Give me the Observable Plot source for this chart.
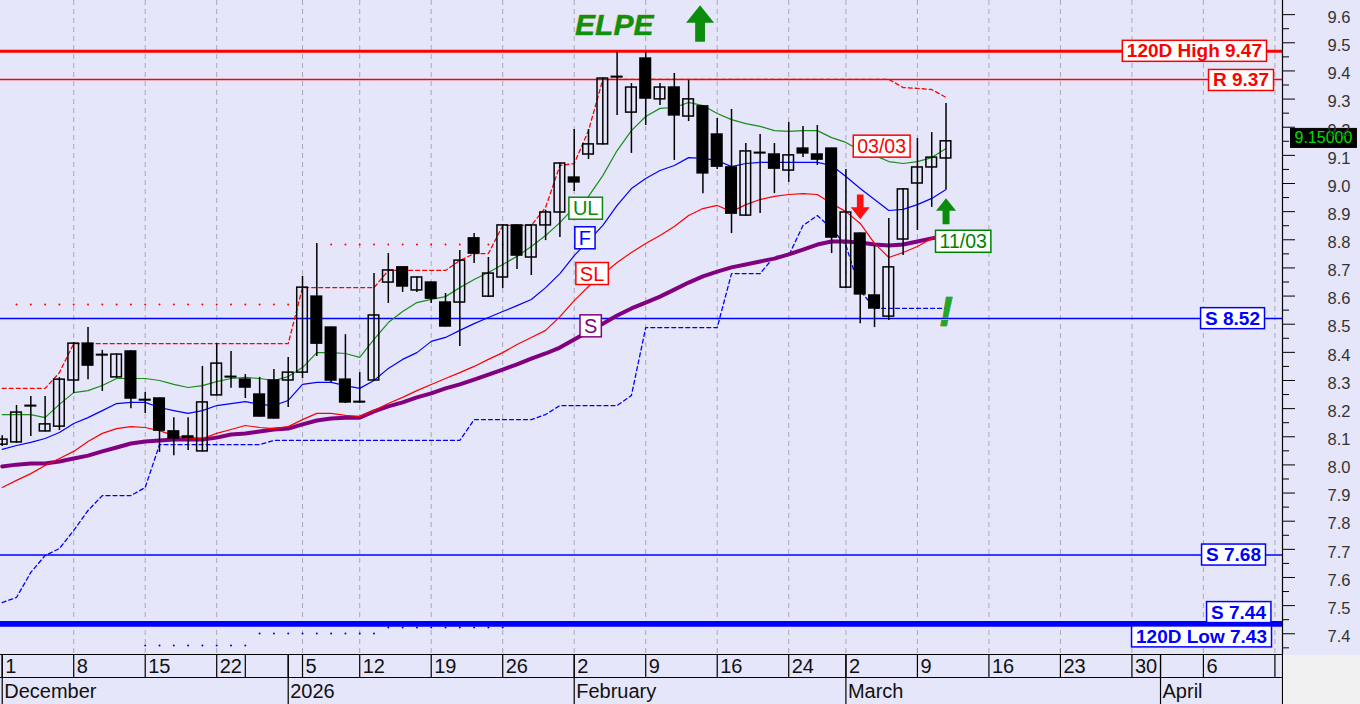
<!DOCTYPE html>
<html>
<head>
<meta charset="utf-8">
<script src="https://cdn.jsdelivr.net/npm/d3@7"></script>
<script src="https://cdn.jsdelivr.net/npm/@observablehq/plot@0.6"></script>
<style>
  html, body { margin: 0; padding: 0; background: #f0f0f0; }
  #chart svg { display: block; }
</style>
</head>
<body>
<div id="chart"></div>
<script>
// ---------------- calendar (trading sessions) ----------------
const firstSession = "2025-12-01";
const lastSession = "2026-04-13";
const holidays = ["2025-12-24", "2025-12-25", "2025-12-26", "2026-01-01", "2026-01-06", "2026-02-23"];

// ---------------- daily OHLC (ELPE) ----------------
const open = [8.072,8.080,8.210,8.119,8.136,8.300,8.431,8.391,8.311,8.403,
  8.231,8.236,8.119,8.101,8.048,8.247,8.313,8.303,8.250,8.300,
  8.300,8.328,8.598,8.488,8.303,8.224,8.300,8.648,8.702,8.620,
  8.648,8.577,8.577,8.805,8.598,8.666,8.851,8.737,8.851,8.897,
  9.021,9.103,9.139,9.379,9.252,9.444,9.299,9.341,9.238,9.274,
  9.174,9.057,8.886,9.109,9.103,9.046,9.124,9.103,9.124,8.630,
  8.822,8.602,8.527,8.801,9.000,9.057,9.089];
const high = [8.104,8.211,8.243,8.243,8.310,8.435,8.488,8.407,8.395,8.406,
  8.257,8.238,8.168,8.168,8.350,8.431,8.403,8.321,8.311,8.339,
  8.382,8.670,8.787,8.490,8.463,8.328,8.680,8.751,8.704,8.668,
  8.650,8.609,8.762,8.822,8.737,8.853,8.853,8.853,8.905,9.073,
  9.192,9.192,9.375,9.466,9.355,9.466,9.355,9.391,9.366,9.276,
  9.231,9.263,9.142,9.174,9.142,9.217,9.203,9.206,9.126,9.050,
  8.824,8.780,8.876,8.981,9.160,9.181,9.284];
const low = [8.065,8.076,8.101,8.117,8.122,8.254,8.303,8.261,8.308,8.200,
  8.183,8.044,8.033,8.051,8.046,8.245,8.272,8.236,8.170,8.163,
  8.204,8.307,8.385,8.289,8.218,8.218,8.298,8.574,8.613,8.613,
  8.574,8.490,8.421,8.716,8.596,8.627,8.694,8.673,8.797,8.808,
  8.972,9.085,9.137,9.242,9.107,9.206,9.277,9.082,9.220,8.964,
  9.050,8.822,8.884,8.893,8.964,9.004,9.092,9.064,8.751,8.627,
  8.502,8.488,8.513,8.744,8.833,8.915,8.979];
const close = [8.090,8.186,8.208,8.144,8.303,8.431,8.353,8.389,8.392,8.236,
  8.229,8.122,8.094,8.096,8.222,8.360,8.311,8.275,8.172,8.165,
  8.328,8.630,8.431,8.300,8.222,8.222,8.531,8.691,8.634,8.666,
  8.591,8.492,8.726,8.751,8.680,8.851,8.744,8.851,8.897,9.071,
  9.004,9.139,9.373,9.377,9.341,9.302,9.341,9.242,9.299,9.036,
  9.060,8.893,9.114,9.107,9.053,9.100,9.107,9.085,8.808,8.897,
  8.606,8.556,8.702,8.979,9.057,9.092,9.150];

// ---------------- indicator lines ----------------
const ulLine = [8.179,8.179,8.179,8.168,8.215,8.257,8.264,8.282,8.307,8.307,
  8.307,8.300,8.286,8.275,8.282,8.296,8.307,8.311,8.307,8.300,
  8.314,8.346,8.399,8.399,8.396,8.382,8.446,8.506,8.545,8.577,
  8.588,8.598,8.630,8.659,8.684,8.712,8.741,8.776,8.815,8.861,
  8.915,8.954,9.028,9.117,9.188,9.238,9.267,9.270,9.288,9.277,
  9.249,9.227,9.213,9.203,9.188,9.185,9.188,9.188,9.163,9.146,
  9.117,9.100,9.078,9.071,9.078,9.092,9.124];
const fLine = [8.055,8.069,8.080,8.094,8.115,8.147,8.168,8.193,8.218,8.222,
  8.222,8.204,8.193,8.183,8.193,8.211,8.218,8.225,8.215,8.211,
  8.229,8.286,8.293,8.293,8.282,8.272,8.300,8.343,8.375,8.399,
  8.439,8.453,8.478,8.502,8.524,8.545,8.566,8.588,8.630,8.680,
  8.744,8.797,8.851,8.922,8.982,9.018,9.046,9.064,9.092,9.089,
  9.082,9.060,9.071,9.075,9.075,9.075,9.075,9.075,9.064,9.025,
  8.982,8.943,8.904,8.908,8.925,8.947,8.979];
const slLine = [7.920,7.945,7.969,7.998,8.023,8.048,8.083,8.112,8.129,8.136,
  8.133,8.122,8.104,8.094,8.094,8.112,8.126,8.140,8.133,8.129,
  8.136,8.161,8.183,8.183,8.176,8.172,8.193,8.218,8.240,8.264,
  8.286,8.307,8.328,8.350,8.375,8.399,8.428,8.453,8.478,8.527,
  8.584,8.634,8.677,8.719,8.755,8.787,8.815,8.847,8.886,8.911,
  8.922,8.900,8.925,8.943,8.954,8.961,8.964,8.961,8.929,8.900,
  8.858,8.787,8.737,8.755,8.776,8.805,8.826];
const sLine = [7.994,8.001,8.005,8.005,8.012,8.023,8.033,8.048,8.062,8.076,
  8.083,8.087,8.090,8.090,8.090,8.097,8.108,8.112,8.119,8.126,
  8.129,8.144,8.158,8.165,8.168,8.168,8.190,8.208,8.222,8.240,
  8.254,8.272,8.286,8.303,8.321,8.339,8.357,8.378,8.396,8.417,
  8.446,8.474,8.502,8.531,8.556,8.577,8.598,8.623,8.648,8.670,
  8.687,8.702,8.712,8.723,8.733,8.748,8.765,8.783,8.794,8.794,
  8.790,8.783,8.780,8.783,8.794,8.805,8.815];
const upperStop = [8.272,8.272,8.272,8.272,8.328,8.431,8.431,8.431,8.431,8.431,
  8.431,8.431,8.431,8.431,8.431,8.431,8.431,8.431,8.431,8.431,
  8.431,8.630,8.630,8.630,8.630,8.630,8.630,8.691,8.691,8.691,
  8.691,8.691,8.726,8.751,8.751,8.851,8.851,8.851,8.915,9.064,
  9.071,9.188,9.370,9.370,9.370,9.370,9.370,9.370,9.370,9.370,
  9.370,9.370,9.370,9.370,9.370,9.370,9.370,9.370,9.370,9.370,
  9.370,9.370,9.370,9.341,9.338,9.334,9.306];
const lowerStop = [7.511,7.529,7.618,7.678,7.703,7.767,7.838,7.891,7.891,7.891,
  7.920,8.072,8.072,8.072,8.072,8.072,8.072,8.072,8.072,8.087,
  8.087,8.087,8.087,8.087,8.087,8.087,8.087,8.087,8.087,8.087,
  8.087,8.087,8.087,8.161,8.161,8.161,8.161,8.161,8.179,8.211,
  8.211,8.211,8.211,8.211,8.247,8.488,8.488,8.488,8.488,8.488,
  8.488,8.680,8.680,8.680,8.741,8.744,8.851,8.886,8.840,8.780,
  8.620,8.556,8.556,8.556,8.556,8.556,8.556];
const redDotted = [
  {start: "2025-12-02", end: "2026-01-02", value: 8.570},
  {start: "2026-01-08", end: "2026-01-26", value: 8.783}
];
const blueDotted = [
  {start: "2025-12-15", end: "2025-12-29", value: 7.358},
  {start: "2025-12-30", end: "2026-01-13", value: 7.401},
  {start: "2026-01-14", end: "2026-01-26", value: 7.422}
];

// ---------------- horizontal levels ----------------
const levelNames = ["120D High", "R", "S", "S", "S", "120D Low"];
const levelValues = [9.47, 9.37, 8.52, 7.68, 7.44, 7.43];

// ---------------- annotations (session number, price) ----------------
const lineTags = ["UL", "F", "SL", "S"];
const lineTagAt = [40.8, 40.75, 41.25, 41.15];
const lineTagValue = [8.910, 8.805, 8.678, 8.492];
const dateTags = ["03/03", "11/03"];
const dateTagAt = [61.5, 67.2];
const dateTagValue = [9.130, 8.792];
const title = "ELPE";
const titleAt = 42.8;
const titleArrowAt = 48.8;
const sellSignalAt = 60, sellSignalValue = 8.917;
const buySignalAt = 66, buySignalValue = 8.901;
const alertAt = 66, alertValue = 8.543;

// ---------------- axis ticks ----------------
const weekTickDates = ["2025-12-01","2025-12-08","2025-12-15","2025-12-22","2026-01-05","2026-01-12",
  "2026-01-19","2026-01-26","2026-02-02","2026-02-09","2026-02-16","2026-02-24","2026-03-02",
  "2026-03-09","2026-03-16","2026-03-23","2026-03-30","2026-04-06","2026-04-13"];
const weekTickLabels = ["1","8","15","22","5","12","19","26","2","9","16","24","2","9","16","23","30","6",""];
const weekBreakDates = ["2025-12-29", "2026-01-02", "2026-04-01"];
const monthDates = ["2025-12-01", "2026-01-02", "2026-02-02", "2026-03-02", "2026-04-01"];
const monthLabels = ["December", "2026", "February", "March", "April"];
const yTicks = [7.4,7.5,7.6,7.7,7.8,7.9,8.0,8.1,8.2,8.3,8.4,8.5,8.6,8.7,8.8,8.9,9.0,9.1,9.2,9.3,9.4,9.5,9.6];
const yMinorTicks = [7.35,7.45,7.55,7.65,7.75,7.85,7.95,8.05,8.15,8.25,8.35,8.45,8.55,8.65,8.75,8.85,8.95,9.05,9.15,9.25,9.35,9.45,9.55];

// ================= build =================
const sessions = [];
for (let d = new Date(firstSession + "T00:00:00Z"); d <= new Date(lastSession + "T00:00:00Z"); d.setUTCDate(d.getUTCDate() + 1)) {
  const s = d.toISOString().slice(0, 10), wd = d.getUTCDay();
  if (wd !== 0 && wd !== 6 && !holidays.includes(s)) sessions.push(s);
}
const idx = (s) => sessions.indexOf(s);

const candles = close.map((c, i) => ({i, o: open[i], h: high[i], l: low[i], c}));
const series = (arr) => arr.map((v, i) => ({i, v}));
const dotRuns = (segs) => segs.flatMap(s => d3.range(idx(s.start), idx(s.end) + 1).map(i => ({i, v: s.value})));

const xDomain = [-0.12, sessions.length - 1 + 0.53];
const yDomain = [7.3263, 9.6503];

const RED = "#ff0000", BLUE = "#0000ff", GREEN = "#0a8a0a", PURPLE = "#800080";

const weekIdx = weekTickDates.map(idx);
const weekLabelByIdx = new Map(weekIdx.map((k, j) => [k, weekTickLabels[j]]));
const row1Ticks = [...weekIdx, ...weekBreakDates.map(idx)];
const monthIdx = monthDates.map(idx);
const monthLabelByIdx = new Map(monthIdx.map((k, j) => [k, monthLabels[j]]));

function arrowSymbol(dir) {
  return {
    draw(ctx, size) {
      const r = Math.sqrt(size / Math.PI), h = 1.3 * r, hh = 1.25 * r, w = 0.35 * r, s = dir === "up" ? 1 : -1;
      ctx.moveTo(0, -h * s);
      ctx.lineTo(r, (-h + hh) * s);
      ctx.lineTo(w, (-h + hh) * s);
      ctx.lineTo(w, h * s);
      ctx.lineTo(-w, h * s);
      ctx.lineTo(-w, (-h + hh) * s);
      ctx.lineTo(-r, (-h + hh) * s);
      ctx.closePath();
    }
  };
}

const levelLabel = (k) => `${levelNames[k]} ${levelValues[k].toFixed(2)}`;
const levelColor = (k) => (k < 2 ? RED : BLUE);
const levelWidth = (k) => (k === 0 ? 3 : k >= 4 ? 3 : 1.5);
const levelLabelDy = (k) => [0, 1, 0, 0, -10, 11.5][k];
const levelLabelDx = (k) => [-20.5, -13.5, -22.5, -21.5, -16.5, -15.5][k];

const marks = [
  Plot.ruleX(weekIdx.slice(1), {stroke: "#a9a9b4", strokeDasharray: "5,4", strokeWidth: 1}),
  ...levelValues.map((v, k) => Plot.ruleY([v], {stroke: levelColor(k), strokeWidth: levelWidth(k)})),
  Plot.dot(dotRuns(redDotted), {x: "i", y: "v", r: 1, fill: RED, stroke: null}),
  Plot.dot(dotRuns(blueDotted), {x: "i", y: "v", r: 1, fill: BLUE, stroke: null}),
  Plot.line(series(upperStop), {x: "i", y: "v", stroke: RED, strokeWidth: 1.3, strokeDasharray: "4,3"}),
  Plot.line(series(lowerStop), {x: "i", y: "v", stroke: BLUE, strokeWidth: 1.3, strokeDasharray: "4,3"}),
  Plot.line(series(sLine), {x: "i", y: "v", stroke: PURPLE, strokeWidth: 4}),
  Plot.line(series(slLine), {x: "i", y: "v", stroke: RED, strokeWidth: 1.2}),
  Plot.line(series(fLine), {x: "i", y: "v", stroke: BLUE, strokeWidth: 1.2}),
  Plot.line(series(ulLine), {x: "i", y: "v", stroke: "#1a8c1a", strokeWidth: 1.2}),
  Plot.ruleX(candles, {x: "i", y1: "l", y2: "h", stroke: "#000", strokeWidth: 1.5}),
  Plot.rect(candles, {filter: d => d.c >= d.o, x1: d => d.i - 0.37, x2: d => d.i + 0.37, y1: "o", y2: "c", fill: "none", stroke: "#000", strokeWidth: 1.5}),
  Plot.rect(candles, {filter: d => d.c < d.o, x1: d => d.i - 0.37, x2: d => d.i + 0.37, y1: "o", y2: "c", fill: "#000", stroke: "#000", strokeWidth: 1.5}),
  ...levelValues.map((v, k) => Plot.text([v], {
    y: d => d, text: () => levelLabel(k), frameAnchor: "right", textAnchor: "end",
    dx: levelLabelDx(k), dy: levelLabelDy(k), fill: levelColor(k), fontSize: 19, fontWeight: "bold"
  })),
  ...lineTags.map((t, k) => Plot.text([t], {
    x: () => lineTagAt[k], y: () => lineTagValue[k], text: d => d, fontSize: 20,
    fill: [GREEN, BLUE, RED, PURPLE][k]
  })),
  ...dateTags.map((t, k) => Plot.text([t], {
    x: () => dateTagAt[k], y: () => dateTagValue[k], text: d => d, fontSize: 19.5,
    fill: [RED, "#008000"][k]
  })),
  Plot.text([close[close.length - 1]], {
    y: d => d, text: d => d.toFixed(5), frameAnchor: "right", textAnchor: "start", dx: 12, dy: -3,
    fill: "#00dd00", fontSize: 16
  }),
  Plot.text([title], {x: () => titleAt, text: d => d, frameAnchor: "top", lineAnchor: "middle", dy: 25, fontSize: 30,
    fontWeight: "bold", fontStyle: "italic", fill: "#0f900f", stroke: "#7a9a20", strokeWidth: 0.6}),
  Plot.dot([titleArrowAt], {x: d => d, frameAnchor: "top", dy: 23, r: 14, symbol: arrowSymbol("up"), fill: "#0c8c0c", stroke: null}),
  Plot.dot([sellSignalAt], {x: d => d, y: () => sellSignalValue, r: 9.5, symbol: arrowSymbol("down"), fill: "#ff1010", stroke: null}),
  Plot.dot([buySignalAt], {x: d => d, y: () => buySignalValue, r: 10, symbol: arrowSymbol("up"), fill: "#0c8c0c", stroke: null}),
  Plot.text(["!"], {x: () => alertAt, y: () => alertValue, text: d => d, fontSize: 42, fontWeight: "bold",
    fontStyle: "italic", fill: "#22a822", stroke: "#0a6a0a", strokeWidth: 0.6}),
  Plot.ruleY([yDomain[0]], {stroke: "#000", strokeWidth: 1.2}),
  Plot.ruleY([yDomain[0]], {stroke: "#000", strokeWidth: 1.2, dy: 23}),
  Plot.ruleX([xDomain[1]], {stroke: "#000", strokeWidth: 1.2}),
  // right price axis: major ticks, minor ticks, labels
  Plot.axisY(yTicks, {anchor: "right", tickSize: 12, fill: "none", stroke: "#000", label: null}),
  Plot.axisY(yMinorTicks, {anchor: "right", tickSize: 6, fill: "none", stroke: "#000", label: null}),
  Plot.axisY(yTicks, {anchor: "right", tickSize: 0, tickPadding: 45, dy: 3, tickFormat: d3.format(".1f"), fontSize: 16.5, fill: "#333", label: null}),
  // bottom date axis: day row
  Plot.axisX(row1Ticks, {anchor: "bottom", tickSize: 23, fill: "none", stroke: "#000", strokeWidth: 1.2, label: null}),
  Plot.axisX(weekIdx, {anchor: "bottom", tickSize: 0, tickPadding: 23, dy: -19, dx: 3, textAnchor: "start",
    tickFormat: k => weekLabelByIdx.get(k), fontSize: 20, fill: "#111", label: null}),
  // bottom date axis: month row
  Plot.axisX([...monthIdx, xDomain[1]], {anchor: "bottom", tickSize: 50, fill: "none", stroke: "#000", strokeWidth: 1.2, label: null}),
  Plot.axisX(monthIdx, {anchor: "bottom", tickSize: 0, tickPadding: 50, dy: -21, dx: 2, textAnchor: "start",
    tickFormat: k => monthLabelByIdx.get(k), fontSize: 20, fill: "#111", label: null})
];

const chart = Plot.plot({
  width: 1360,
  height: 704,
  marginLeft: 0,
  marginRight: 78,
  marginTop: 0,
  marginBottom: 50,
  style: {background: "#e6e6fa", fontFamily: "'Liberation Sans', Arial, sans-serif", overflow: "visible"},
  x: {type: "linear", domain: xDomain, axis: null},
  y: {type: "linear", domain: yDomain, axis: null},
  marks
});
document.getElementById("chart").append(chart);

// white (or black) boxes behind the tag texts, outlined in the text colour
const boxSpec = new Map();
levelValues.forEach((v, k) => boxSpec.set(levelLabel(k), {fill: "#ffffff", px: 4.5, py: 0, sw: 1.5}));
[...lineTags, ...dateTags].forEach(t => boxSpec.set(t, {fill: "#ffffff", px: 4, py: 0, sw: 1.5}));
boxSpec.set(close[close.length - 1].toFixed(5), {fill: "#000000", px: 4, py: 1, sw: 1, stroke: "#000000"});
chart.querySelectorAll("text").forEach(t => {
  const st = boxSpec.get(t.textContent);
  if (!st) return;
  const b = t.getBBox();
  const color = st.stroke || getComputedStyle(t).fill;
  const r = document.createElementNS("http://www.w3.org/2000/svg", "rect");
  r.setAttribute("x", b.x - st.px);
  r.setAttribute("y", b.y - st.py);
  r.setAttribute("width", b.width + 2 * st.px);
  r.setAttribute("height", b.height + 2 * st.py);
  r.setAttribute("fill", st.fill);
  r.setAttribute("stroke", color);
  r.setAttribute("stroke-width", st.sw);
  if (t.getAttribute("transform")) r.setAttribute("transform", t.getAttribute("transform"));
  t.parentNode.insertBefore(r, t);
});
d3.select(chart).append("rect").attr("x", 1283).attr("y", 655).attr("width", 77).attr("height", 49).attr("fill", "#f0f0f0");
</script>
</body>
</html>
